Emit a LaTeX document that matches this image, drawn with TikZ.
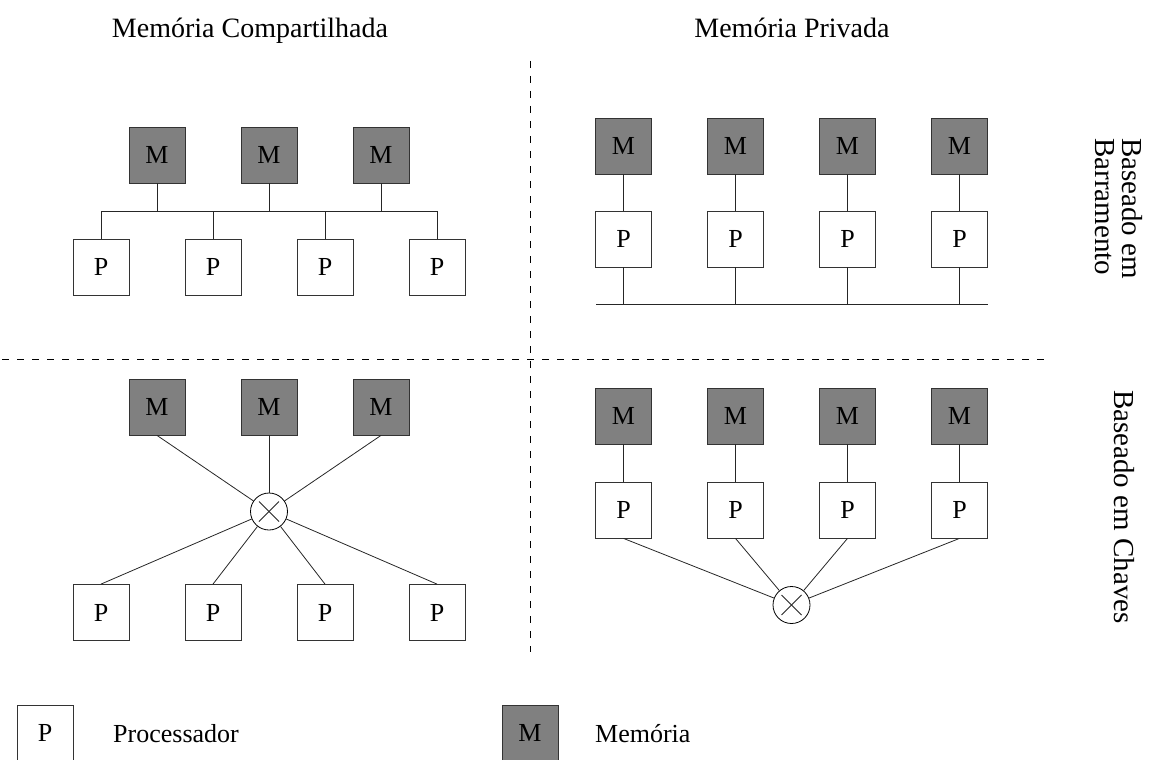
\documentclass[tikz,border=0pt]{standalone}
\usepackage{fontspec}
\setmainfont{Liberation Serif}
\begin{document}
\begin{tikzpicture}[x=1pt,y=-1pt,
  every node/.style={font=\fontsize{26}{30}\selectfont},
  unit/.style={draw=black!80,line width=0.8pt,minimum size=56pt,inner sep=0pt,font=\fontsize{26}{30}\selectfont},
  proc/.style={unit,fill=white},
  mem/.style={unit,fill=black!50},
  switch/.style={circle,draw=black,line width=0.8pt,minimum size=37pt,inner sep=0pt,fill=white},
  wire/.style={line width=0.8pt,draw=black!85},
  divider/.style={line width=0.8pt,dash pattern=on 7pt off 8pt},
  label/.style={inner sep=0pt},
  title/.style={label,anchor=base,font=\fontsize{28}{32}\selectfont},
  rowtitle/.style={label,rotate=-90,font=\fontsize{29}{27}\selectfont}]
\useasboundingbox (0,0) rectangle (1163,760);

% column titles
\node[title] (tShared) at (250,38) {Memória Compartilhada};
\node[title] (tPriv) at (792,38) {Memória Privada};

% row titles, rotated
\node[rowtitle,align=left,anchor=north west] (tBus) at (1143,138) {Baseado em\\Barramento};
\node[rowtitle] (tSw) at (1124,507) {Baseado em Chaves};

% quadrant dividers
\coordinate (vTop) at (530,61);
\coordinate (vBot) at (530,652);
\coordinate (hL) at (2,359);
\coordinate (hR) at (1045,359);
\draw[divider] (vTop) -- (vBot);
\draw[divider] (hL) -- (hR);

% shared memory, bus
\foreach \i/\x in {1/157,2/269,3/381}
  \node[mem] (sbm\i) at (\x,155) {M};
\foreach \i/\x in {1/101,2/213,3/325,4/437}
  \node[proc] (sbp\i) at (\x,267) {P};
\coordinate (sbusL) at (101,211);
\coordinate (sbusR) at (437,211);
\draw[wire] (sbusL) -- (sbusR);
\foreach \i in {1,2,3}
  \draw[wire] (sbm\i.south) -- (sbm\i.south |- sbusL);
\foreach \i in {1,2,3,4}
  \draw[wire] (sbp\i.north) -- (sbp\i.north |- sbusL);

% private memory, bus
\foreach \i/\x in {1/623.5,2/735.5,3/847.5,4/959.5}{
  \node[mem] (pbm\i) at (\x,146) {M};
  \node[proc] (pbp\i) at (\x,239) {P};
  \draw[wire] (pbm\i) -- (pbp\i);
}
\coordinate (pbusL) at (596,304.5);
\coordinate (pbusR) at (987.5,304.5);
\draw[wire] (pbusL) -- (pbusR);
\foreach \i in {1,2,3,4}
  \draw[wire] (pbp\i.south) -- (pbp\i.south |- pbusL);

% shared memory, switch
\node[switch] (ssw) at (269,511.5) {};
\draw[wire] ([shift={(-10,-10)}]ssw.center) -- ([shift={(10,10)}]ssw.center);
\draw[wire] ([shift={(-10,10)}]ssw.center) -- ([shift={(10,-10)}]ssw.center);
\foreach \i/\x in {1/157,2/269,3/381}{
  \node[mem] (ssm\i) at (\x,407) {M};
  \draw[wire] (ssm\i.south) -- (ssw);
}
\foreach \i/\x in {1/101,2/213,3/325,4/437}{
  \node[proc] (ssp\i) at (\x,612.5) {P};
  \draw[wire] (ssp\i.north) -- (ssw);
}

% private memory, switch
\node[switch] (psw) at (791.5,605) {};
\draw[wire] ([shift={(-10,-10)}]psw.center) -- ([shift={(10,10)}]psw.center);
\draw[wire] ([shift={(-10,10)}]psw.center) -- ([shift={(10,-10)}]psw.center);
\foreach \i/\x in {1/623.5,2/735.5,3/847.5,4/959.5}{
  \node[mem] (psm\i) at (\x,416) {M};
  \node[proc] (psp\i) at (\x,510) {P};
  \draw[wire] (psm\i) -- (psp\i);
  \draw[wire] (psp\i.south) -- (psw);
}

% legend
\node[proc] (lgP) at (45,733) {P};
\node[label,anchor=west] (lgPt) at (113,734) {Processador};
\node[mem] (lgM) at (530,733) {M};
\node[label,anchor=west] (lgMt) at (595,734) {Memória};
\end{tikzpicture}
\end{document}
